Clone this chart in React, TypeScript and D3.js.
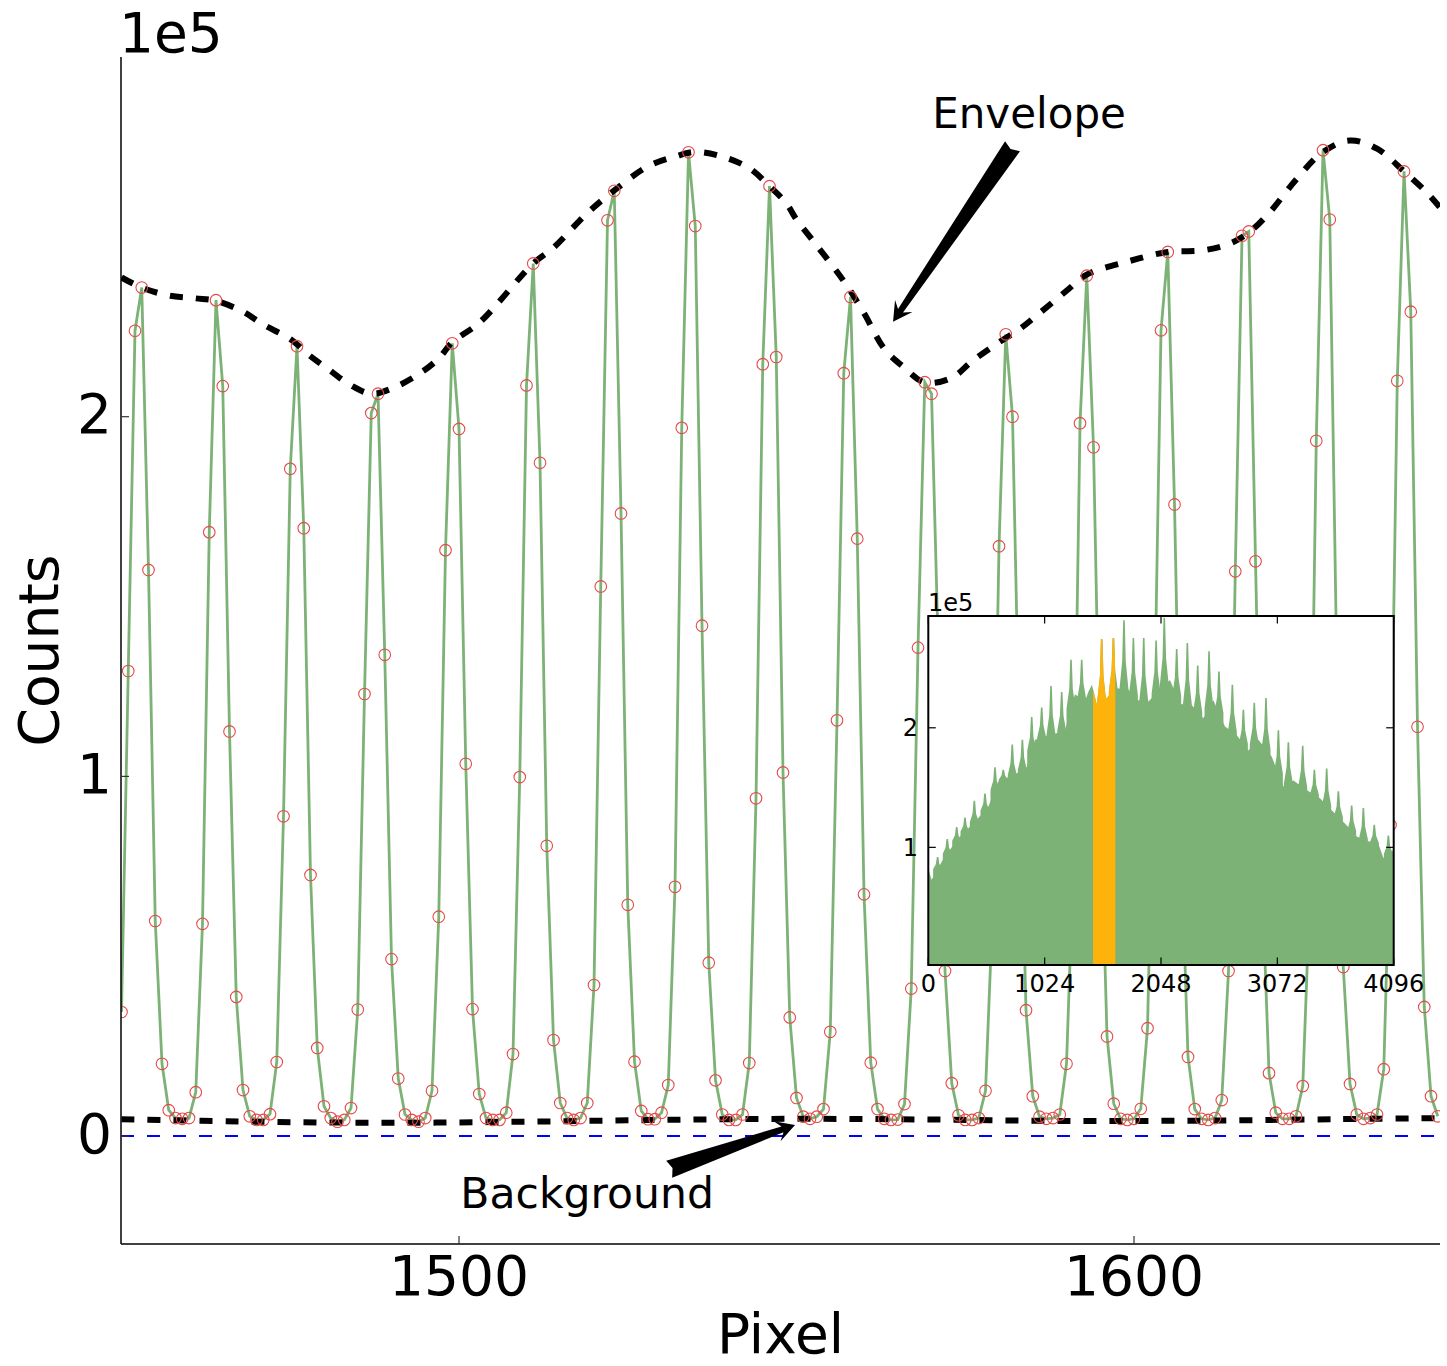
import React from 'react';
import * as d3 from 'd3';

const width = 1447;
const height = 1366;

// detector counts (x1e5) for pixels 1450 .. 1645, one value per pixel
const firstPixel = 1450;
const counts = [
  0.345, 1.293, 2.239, 2.359, 1.574, 0.598, 0.201, 0.072, 0.050, 0.048,
  0.050, 0.122, 0.590, 1.679, 2.324, 2.085, 1.125, 0.387, 0.128, 0.055,
  0.045, 0.045, 0.061, 0.206, 0.889, 1.855, 2.196, 1.690, 0.726, 0.245,
  0.083, 0.050, 0.040, 0.045, 0.078, 0.352, 1.229, 2.010, 2.064, 1.338,
  0.492, 0.160, 0.060, 0.045, 0.040, 0.050, 0.126, 0.610, 1.629, 2.204,
  1.966, 1.035, 0.353, 0.117, 0.050, 0.045, 0.045, 0.065, 0.228, 0.998,
  2.087, 2.426, 1.872, 0.807, 0.267, 0.092, 0.050, 0.045, 0.050, 0.092,
  0.420, 1.528, 2.546, 2.628, 1.731, 0.643, 0.207, 0.070, 0.047, 0.047,
  0.065, 0.142, 0.693, 1.969, 2.735, 2.530, 1.419, 0.482, 0.155, 0.060,
  0.045, 0.045, 0.060, 0.203, 0.939, 2.146, 2.641, 2.166, 1.011, 0.330,
  0.106, 0.054, 0.048, 0.054, 0.075, 0.290, 1.156, 2.121, 2.333, 1.661,
  0.672, 0.204, 0.075, 0.048, 0.045, 0.046, 0.089, 0.410, 1.358, 2.096,
  2.064, 1.350, 0.459, 0.147, 0.058, 0.045, 0.045, 0.050, 0.126, 0.600,
  1.640, 2.229, 2.000, 1.100, 0.350, 0.111, 0.054, 0.048, 0.050, 0.060,
  0.201, 0.750, 1.982, 2.392, 1.915, 0.950, 0.277, 0.090, 0.048, 0.045,
  0.048, 0.076, 0.300, 1.150, 2.240, 2.458, 1.756, 0.800, 0.220, 0.075,
  0.048, 0.045, 0.050, 0.100, 0.459, 1.570, 2.503, 2.515, 1.598, 0.700,
  0.175, 0.065, 0.048, 0.048, 0.055, 0.139, 0.650, 1.933, 2.741, 2.548,
  1.350, 0.470, 0.145, 0.060, 0.048, 0.050, 0.060, 0.186, 0.865, 2.100,
  2.682, 2.292, 1.138, 0.359, 0.111, 0.055,
];

// envelope knots
const envelopePixels = [
  1450, 1453, 1457, 1461, 1464, 1468, 1471, 1475, 1478, 1481, 1484, 1487, 1490,
  1494, 1497, 1499, 1503, 1511, 1514, 1519, 1523, 1528, 1532, 1535, 1539, 1543,
  1546, 1548.5, 1550, 1553, 1557, 1560, 1563, 1566, 1569, 1573, 1576, 1580, 1583,
  1586, 1590, 1593, 1599, 1605, 1610, 1614, 1617, 1620, 1624, 1628, 1632, 1636,
  1640, 1643.6, 1646,
];
const envelopeCounts = [
  2.387, 2.359, 2.337, 2.329, 2.322, 2.292, 2.256, 2.216, 2.168, 2.127, 2.087, 2.064, 2.078,
  2.118, 2.162, 2.207, 2.261, 2.426, 2.470, 2.566, 2.629, 2.696, 2.723, 2.736, 2.723, 2.691,
  2.641, 2.593, 2.548, 2.476, 2.377, 2.288, 2.189, 2.136, 2.095, 2.108, 2.154, 2.207, 2.243,
  2.288, 2.350, 2.395, 2.431, 2.458, 2.462, 2.480, 2.512, 2.566, 2.659, 2.736, 2.768, 2.745,
  2.682, 2.619, 2.566,
];

// background knots
const backgroundPixels = [1450, 1470, 1490, 1510, 1530, 1550, 1570, 1590, 1610, 1630, 1646];
const backgroundCounts = [0.047, 0.040, 0.037, 0.040, 0.045, 0.048, 0.046, 0.042, 0.043, 0.047, 0.050];

const xTicks = [1500, 1600];
const yTicks = [0, 1, 2];

// full detector (inset): level between fringes and fringe spikes
const insetBasePixels = [
  0, 29, 118, 220, 279, 352, 426, 528, 616, 690, 778, 866, 939, 1033, 1115, 1203,
  1291, 1379, 1408, 1440, 1482, 1570, 1652, 1760, 1843, 1937, 2039, 2127, 2215,
  2318, 2421, 2509, 2611, 2714, 2817, 2905, 3022, 3125, 3213, 3330, 3447, 3550,
  3667, 3770, 3873, 3961, 4005, 4096,
];
const insetBaseCounts = [
  0.82, 0.73, 0.88, 1.02, 1.09, 1.16, 1.23, 1.34, 1.55, 1.58, 1.62, 1.67, 1.90, 1.93, 1.95, 1.98,
  2.28, 2.22, 2.30, 2.36, 2.20, 2.25, 2.33, 2.32, 2.23, 2.22, 2.32, 2.40, 2.20,
  2.19, 2.08, 2.23, 2.01, 1.94, 1.81, 1.90, 1.76, 1.51, 1.56, 1.48, 1.41, 1.31,
  1.20, 1.09, 1.05, 1.03, 0.91, 0.98,
];
const insetSpikePixels = [
  82, 167, 250, 323, 405, 499, 587, 660, 739, 828, 910, 998, 1080, 1174, 1256, 1350,
  1526, 1629, 1722, 1805, 1896, 2005, 2077, 2186, 2280, 2371, 2471, 2558, 2676, 2773,
  2869, 2972, 3081, 3169, 3295, 3398, 3506, 3609, 3726, 3829, 3925, 4049,
];
const insetSpikeCounts = [
  0.92, 1.07, 1.17, 1.25, 1.39, 1.45, 1.67, 1.65, 1.86, 1.90, 2.09, 2.17, 2.35, 2.30, 2.57, 2.57,
  2.74, 2.75, 2.90, 2.75, 2.75, 2.73, 2.92, 2.66, 2.71, 2.52, 2.64, 2.47, 2.36, 2.15,
  2.21, 2.25, 1.98, 1.88, 1.85, 1.65, 1.66, 1.47, 1.35, 1.33, 1.19, 1.10,
];
const insetXTicks = [0, 1024, 2048, 3072, 4096];
const insetYTicks = [1, 2];
const zoomRange = [1450, 1645];

const green = '#7db276';
const orange = '#fdb30c';
const font = 'DejaVu Sans';

// annotate(): [pixel, counts] of text and arrow ends
const envelopeText = [1570.1, 2.804];
const envelopeTail = [1582.0, 2.752];
const envelopeTip = [1564.3, 2.264];
const backgroundText = [1500.2, -0.2];
const backgroundTail = [1531.14, -0.092];
const backgroundTip = [1549.78, 0.031];

const arrowPath = (tail, tip) => {
  const dx = tip[0] - tail[0];
  const dy = tip[1] - tail[1];
  const L = Math.hypot(dx, dy);
  const ux = dx / L, uy = dy / L;
  const nx = -uy, ny = ux;
  const p = (a, b) => [tail[0] + ux * a + nx * b, tail[1] + uy * a + ny * b];
  const headLen = 19, headHalf = 10.5, neck = 3, tailHalf = 9, notch = 3.5;
  const pts = [
    p(notch, 0), p(0, -tailHalf), p(L - headLen * 0.7, -neck), p(L - headLen, -headHalf),
    p(L, 0), p(L - headLen, headHalf), p(L - headLen * 0.7, neck), p(0, tailHalf),
  ];
  return 'M' + pts.map(q => q.join(',')).join('L') + 'Z';
};

const App = () => {
  const x = d3.scaleLinear().domain([1450, 1645.33]).range([121.5, 1440]);
  const y = d3.scaleLinear().domain([-0.3, 3.0]).range([1244, 57]);
  const left = 121, right = 1440, top = 57, bottom = 1244;

  const pts = counts.map((c, i) => [firstPixel + i, c]);
  const line = d3.line().x(d => x(d[0])).y(d => y(d[1]));
  const smooth = d3.line().x(d => x(d[0])).y(d => y(d[1])).curve(d3.curveCatmullRom);
  const envelope = envelopePixels.map((p, i) => [p, envelopeCounts[i]]);
  const background = backgroundPixels.map((p, i) => [p, backgroundCounts[i]]);

  // inset
  const il = 928.3, ir = 1393.7, it = 616, ib = 965;
  const xi = d3.scaleLinear().domain([0, 4096]).range([il, ir]);
  const yi = d3.scaleLinear().domain([0.016, 2.935]).range([ib, it]);
  const baseAt = d3.scaleLinear().domain(insetBasePixels).range(insetBaseCounts);
  const base = insetBasePixels.map((p, i) => [p, insetBaseCounts[i]]);
  const baseArea = d3.area().x(d => xi(d[0])).y0(ib).y1(d => yi(d[1]))(base);
  const spikes = insetSpikePixels.map((p, i) => {
    const cx = xi(p);
    const yb = yi(baseAt(p));
    const yp = yi(insetSpikeCounts[i]);
    const ym = yb - (yb - yp) * 0.4;
    return `M${cx - 4.5},${ib}L${cx - 4.5},${yb}L${cx - 1.8},${ym}L${cx - 0.8},${yp}L${cx + 0.8},${yp}L${cx + 1.8},${ym}L${cx + 4.5},${yb}L${cx + 4.5},${ib}Z`;
  });
  const insetShape = (fill) => (
    <g fill={fill}>
      <path d={baseArea} />
      {spikes.map((d, i) => <path key={i} d={d} />)}
    </g>
  );

  const toScreen = (d) => [x(d[0]), y(d[1])];

  return (
    <svg width={width} height={height} style={{ position: 'absolute', left: 0, top: 0, background: 'white' }} fontFamily={font}>
      <defs>
        <clipPath id="plot"><rect x={left} y={top} width={right - left} height={bottom - top} /></clipPath>
        <clipPath id="zoomed"><rect x={xi(zoomRange[0])} y={it} width={xi(zoomRange[1]) - xi(zoomRange[0])} height={ib - it} /></clipPath>
        <clipPath id="inset"><rect x={il} y={it} width={ir - il} height={ib - it} /></clipPath>
      </defs>

      <g clipPath="url(#plot)">
        <path d={line(pts)} fill="none" stroke={green} strokeWidth={2.8} />
        <line x1={left} x2={right} y1={y(0)} y2={y(0)} stroke="#0000ff" strokeWidth={2} strokeDasharray="13 13" />
        <path d={smooth(envelope)} fill="none" stroke="black" strokeWidth={6} strokeDasharray="13 13" />
        <path d={smooth(background)} fill="none" stroke="black" strokeWidth={6} strokeDasharray="13 13" />
        {pts.map((d, i) => (
          <circle key={i} cx={x(d[0])} cy={y(d[1])} r={5.8} fill="none" stroke="#e54a4a" strokeWidth={1.1} />
        ))}
      </g>

      {/* main axes */}
      <line x1={left} x2={left} y1={top} y2={bottom} stroke="black" strokeWidth={1.5} />
      <line x1={left} x2={right} y1={bottom} y2={bottom} stroke="black" strokeWidth={1.5} />
      {yTicks.map(t => (
        <g key={t}>
          <line x1={left} x2={left + 8} y1={y(t)} y2={y(t)} stroke="#333" strokeWidth={1.2} />
          <text x={112} y={y(t) + 16.5} fontSize={55} textAnchor="end">{t}</text>
        </g>
      ))}
      {xTicks.map(t => (
        <g key={t}>
          <line x1={x(t)} x2={x(t)} y1={bottom} y2={bottom - 8} stroke="#333" strokeWidth={1.2} />
          <text x={x(t)} y={1295} fontSize={55} textAnchor="middle">{t}</text>
        </g>
      ))}
      <text x={119} y={52} fontSize={55}>1e5</text>
      <text x={(left + right) / 2} y={1353} fontSize={55} textAnchor="middle">Pixel</text>
      <text transform={`translate(58,${(top + bottom) / 2}) rotate(-90)`} fontSize={55} textAnchor="middle">Counts</text>

      {/* annotations */}
      <text x={x(envelopeText[0])} y={y(envelopeText[1])} fontSize={42}>Envelope</text>
      <path d={arrowPath(toScreen(envelopeTail), toScreen(envelopeTip))} fill="black" />
      <text x={x(backgroundText[0])} y={y(backgroundText[1])} fontSize={42.5}>Background</text>
      <path d={arrowPath(toScreen(backgroundTail), toScreen(backgroundTip))} fill="black" />

      {/* inset: whole detector */}
      <rect x={il} y={it} width={ir - il} height={ib - it} fill="white" />
      <g clipPath="url(#inset)">{insetShape(green)}</g>
      <g clipPath="url(#zoomed)">{insetShape(orange)}</g>
      <rect x={il} y={it} width={ir - il} height={ib - it} fill="none" stroke="black" strokeWidth={2} />
      {insetXTicks.map(t => (
        <g key={t}>
          <line x1={xi(t)} x2={xi(t)} y1={ib} y2={ib - 7.5} stroke="black" strokeWidth={1.2} />
          <line x1={xi(t)} x2={xi(t)} y1={it} y2={it + 7.5} stroke="black" strokeWidth={1.2} />
          <text x={xi(t)} y={992} fontSize={24} textAnchor="middle">{t}</text>
        </g>
      ))}
      {insetYTicks.map(t => (
        <g key={t}>
          <line x1={il} x2={il + 7.5} y1={yi(t)} y2={yi(t)} stroke="black" strokeWidth={1.2} />
          <line x1={ir} x2={ir - 7.5} y1={yi(t)} y2={yi(t)} stroke="black" strokeWidth={1.2} />
          <text x={918} y={yi(t) + 8.5} fontSize={24} textAnchor="end">{t}</text>
        </g>
      ))}
      <text x={928} y={611} fontSize={24}>1e5</text>
    </svg>
  );
};

export default App;
